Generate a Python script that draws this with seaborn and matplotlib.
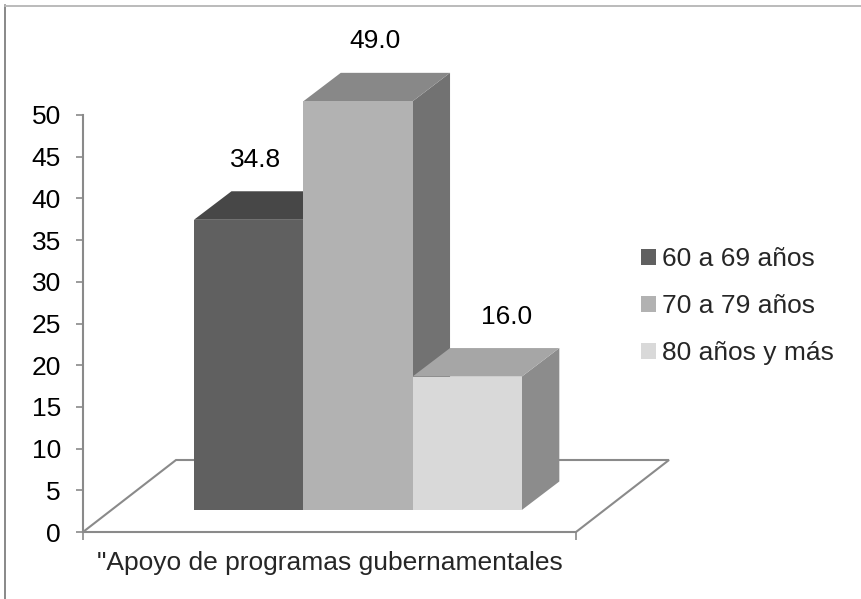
import matplotlib
matplotlib.use("Agg")
import matplotlib.pyplot as plt
import matplotlib.transforms as mtransforms
from matplotlib.patches import Polygon, Patch
from matplotlib.lines import Line2D
import seaborn as sns
import pandas as pd

# ---------------------------------------------------------------------------
# data
# ---------------------------------------------------------------------------
category = ['"Apoyo de programas gubernamentales']
groups = ["60 a 69 años", "70 a 79 años", "80 años y más"]
values = [34.8, 49.0, 16.0]

front_colors = ["#606060", "#b2b2b2", "#d9d9d9"]
top_colors = ["#474747", "#888888", "#a6a6a6"]
side_colors = ["#505050", "#727272", "#8c8c8c"]

df = pd.DataFrame({"cat": category * len(groups), "grupo": groups, "valor": values})

FS = 19

# ---------------------------------------------------------------------------
# figure
# ---------------------------------------------------------------------------
sns.set_style("white")
plt.rcParams["font.family"] = ["Liberation Sans", "DejaVu Sans"]

W, H = 861, 599
fig = plt.figure(figsize=(W / 100, H / 100), dpi=100)
ax = fig.add_axes([83 / W, 1 - 532 / H, (576 - 83) / W, (532 - 115) / H])

sns.barplot(data=df, x="cat", y="valor", hue="grupo", hue_order=groups,
            palette=dict(zip(groups, front_colors)), width=0.665, gap=0,
            saturation=1, errorbar=None, legend=False, ax=ax)
ax.set_xlim(-0.5, 0.5)
ax.set_ylim(0, 50)

# pixel -> data unit scale
px_x = (576 - 83) / 1.0
px_y = (532 - 115) / 50.0

# bars sit in a plane set back into the floor
plane = ax.transData + mtransforms.ScaledTranslation(0.284, 0.22, fig.dpi_scale_trans)

# depth of each bar (data units)
ddx = 37.5 / px_x
ddy = 28.5 / px_y

bars = list(ax.patches)
for i, bar in enumerate(bars):
    x0 = bar.get_x()
    x1 = x0 + bar.get_width()
    h = bar.get_height()
    bar.set_transform(plane)
    bar.set_clip_on(False)
    bar.set_linewidth(0)
    bar.set_zorder(3 + 2 * i)
    top = Polygon([(x0, h), (x1, h), (x1 + ddx, h + ddy), (x0 + ddx, h + ddy)],
                  closed=True, facecolor=top_colors[i], edgecolor="none",
                  transform=plane, clip_on=False, zorder=2 + 2 * i)
    side = Polygon([(x1, 0), (x1 + ddx, ddy), (x1 + ddx, h + ddy), (x1, h)],
                   closed=True, facecolor=side_colors[i], edgecolor="none",
                   transform=plane, clip_on=False, zorder=2 + 2 * i)
    ax.add_patch(side)
    ax.add_patch(top)
    # value label (perspective drift to the right)
    lx = (x0 + x1) / 2 + (6.5 + 4.5 * i + 6 * i * i) / px_x
    ly = h + 60 / px_y
    ax.text(lx, ly, f"{h:.1f}", transform=plane, ha="center", va="center",
            fontsize=FS, color="black", zorder=20)

# floor
fdx = 93 / px_x
fdy = 72 / px_y
floor = Polygon([(-0.5, 0), (0.5, 0), (0.5 + fdx, fdy), (-0.5 + fdx, fdy)],
                closed=True, fill=False, edgecolor="#8a8a8a", linewidth=1.5,
                clip_on=False, zorder=1)
ax.add_patch(floor)

# axes styling
for s in ["top", "right", "bottom"]:
    ax.spines[s].set_visible(False)
ax.spines["left"].set_color("#8a8a8a")
ax.spines["left"].set_linewidth(1.5)
ax.set_yticks(range(0, 51, 5))
ax.tick_params(axis="y", direction="out", length=5, width=1.2, color="#8a8a8a",
               pad=11, labelsize=FS, labelcolor="black", left=True)
ax.set_xticks([0], labels=category)
ax.set_xticks([-0.5, 0.5], minor=True)
ax.tick_params(axis="x", which="major", length=0, pad=13.5, labelsize=FS)
ax.tick_params(axis="x", which="minor", direction="out", length=6, width=1.2,
               color="#8a8a8a", bottom=True)
ax.set_xlabel("")
ax.set_ylabel("")
ax.patch.set_visible(False)

# legend
handles = [Patch(facecolor=c, edgecolor="none") for c in front_colors]
fig.legend(handles, groups, loc="upper left", bbox_to_anchor=(641 / W, 1 - 247 / H),
           frameon=False, fontsize=FS, handlelength=0.55, handleheight=0.55,
           handletextpad=0.25, labelspacing=0.88, borderpad=0, borderaxespad=0)

# outer frame (top and left visible in the original)
fig.add_artist(Line2D([5 / W, 5 / W], [0, 1 - 5 / H], color="#888888", linewidth=1.4))
fig.add_artist(Line2D([5 / W, 1], [1 - 5.5 / H, 1 - 5.5 / H], color="#bbbbbb", linewidth=1.4))

fig.savefig("out.png", dpi=100)
